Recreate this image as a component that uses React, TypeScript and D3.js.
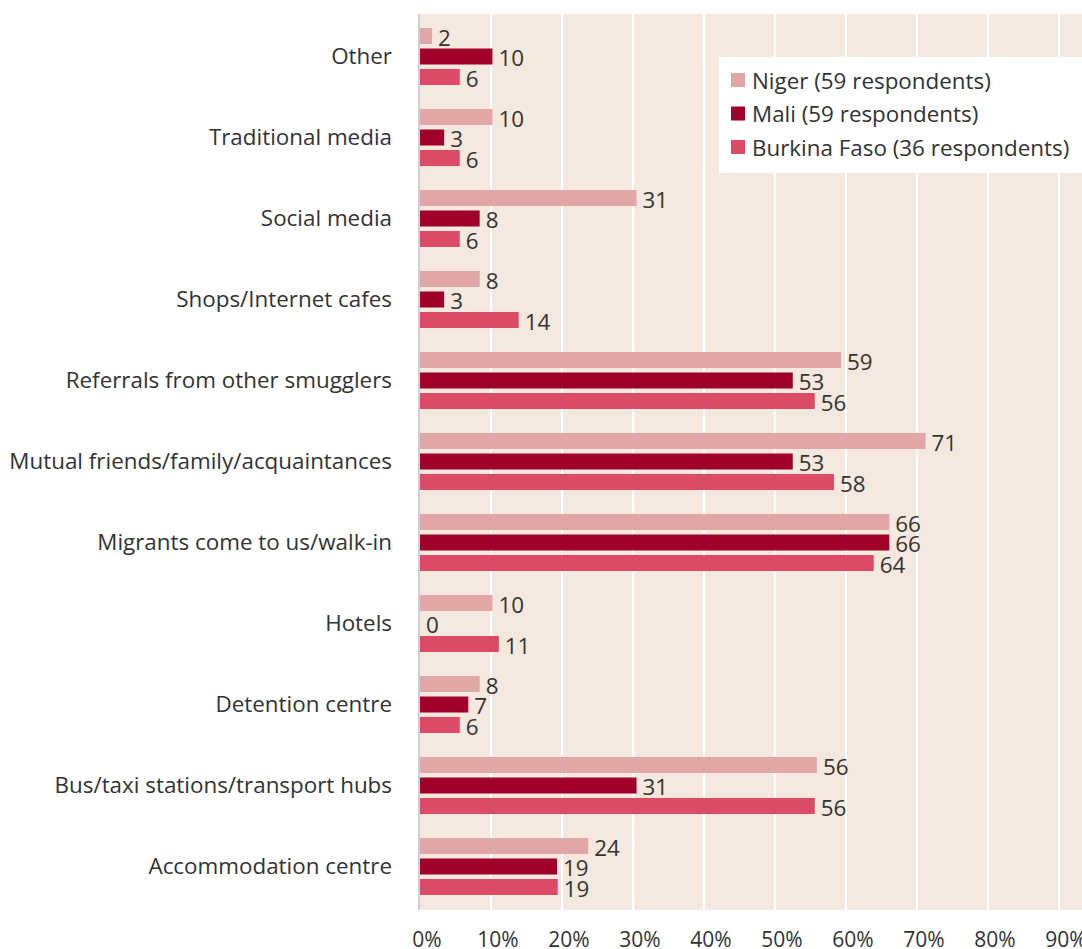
import React from "react";
import * as d3 from "d3";

const categories = [
  "Other",
  "Traditional media",
  "Social media",
  "Shops/Internet cafes",
  "Referrals from other smugglers",
  "Mutual friends/family/acquaintances",
  "Migrants come to us/walk-in",
  "Hotels",
  "Detention centre",
  "Bus/taxi stations/transport hubs",
  "Accommodation centre",
];

const seriesNames = [
  "Niger (59 respondents)",
  "Mali (59 respondents)",
  "Burkina Faso (36 respondents)",
];

const niger = [1.7, 10.2, 30.5, 8.4, 59.3, 71.2, 66.1, 10.2, 8.4, 55.9, 23.7];
const mali = [10.2, 3.4, 8.4, 3.4, 52.5, 52.5, 66.1, 0, 6.8, 30.5, 19.3];
const burkina = [5.6, 5.6, 5.6, 13.9, 55.6, 58.3, 63.9, 11.1, 5.6, 55.6, 19.4];

const colors = ["#e1a6a6", "#9e0029", "#dc4b65"];
const tickValues = [0, 10, 20, 30, 40, 50, 60, 70, 80, 90];

const W = 1082;
const H = 949;
const plotLeft = 420;
const plotTop = 14;
const plotBottom = 910;
const FONT = "'Open Sans', 'Noto Sans', sans-serif";
const FS = 22.4;

export default function App() {
  const series = [niger, mali, burkina];
  const x = d3.scaleLinear().domain([0, 10]).range([plotLeft, plotLeft + 71]);
  const y = d3
    .scaleBand<string>()
    .domain(categories)
    .range([plotTop, plotTop + 81 * categories.length])
    .paddingInner(0)
    .paddingOuter(0);
  const barH = 16;
  const barStep = 20.5;
  const groupOffset = 14;

  return (
    <svg
      width={W}
      height={H}
      style={{ position: "absolute", left: 0, top: 0 }}
      fontFamily={FONT}
    >
      <rect x={plotLeft - 2} y={plotTop} width={W - plotLeft + 2} height={plotBottom - plotTop} fill="#f5e8df" />
      {tickValues.slice(1).map((t) => (
        <line key={t} x1={x(t)} x2={x(t)} y1={plotTop} y2={plotBottom} stroke="#ffffff" strokeWidth={2} />
      ))}
      <line x1={plotLeft - 1} x2={plotLeft - 1} y1={plotTop} y2={plotBottom} stroke="#d0d0d4" strokeWidth={2} />
      {categories.map((c, i) => {
        const y0 = (y(c) as number) + groupOffset;
        return (
          <g key={c}>
            <text
              x={392}
              y={y0 + barStep + barH / 2 - 1}
              textAnchor="end"
              dominantBaseline="central"
              fontSize={FS}
              fill="#333333"
            >
              {c}
            </text>
            {series.map((s, j) => {
              const by = y0 + j * barStep;
              const v = s[i];
              return (
                <g key={j}>
                  <rect x={x(0)} y={by} width={x(v) - x(0)} height={barH} fill={colors[j]} />
                  <text
                    x={x(v) + 6}
                    y={by + barH / 2 + 1}
                    dominantBaseline="central"
                    fontSize={FS}
                    fill="#333333"
                  >
                    {Math.round(v)}
                  </text>
                </g>
              );
            })}
          </g>
        );
      })}
      {tickValues.map((t) => (
        <text key={t} x={x(t) + 7} y={947} textAnchor="middle" fontSize={21} fill="#333333">
          {t}%
        </text>
      ))}
      <g>
        <rect x={719} y={57} width={W - 719} height={116} fill="#ffffff" />
        {seriesNames.map((n, j) => (
          <g key={n}>
            <rect x={731} y={73 + j * 33.5} width={14} height={14} fill={colors[j]} />
            <text x={752} y={80 + j * 33.5} dominantBaseline="central" fontSize={FS} fill="#333333">
              {n}
            </text>
          </g>
        ))}
      </g>
    </svg>
  );
}
